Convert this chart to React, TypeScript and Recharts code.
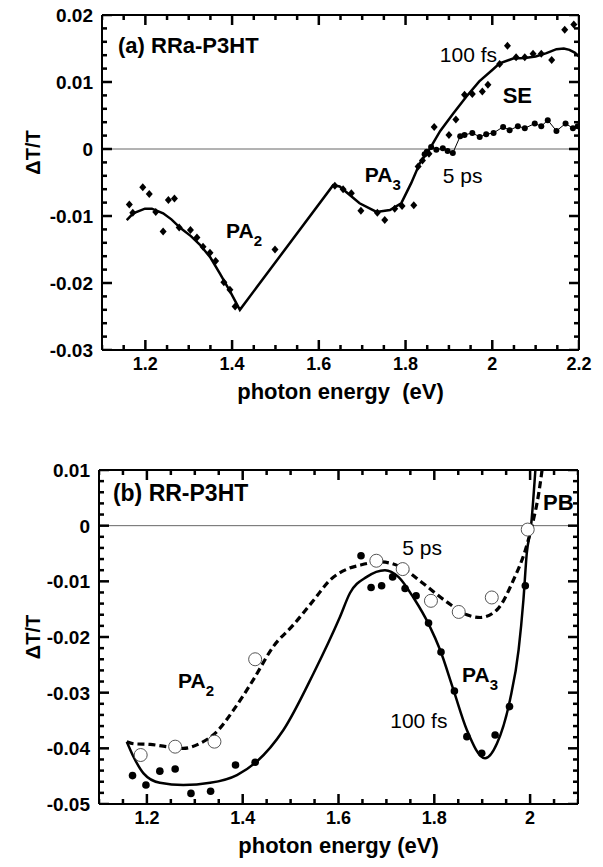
import React from 'react';
import {
  ComposedChart,
  Line,
  Scatter,
  XAxis,
  YAxis,
  ReferenceLine,
  ReferenceDot,
} from 'recharts';

const FONT = '"Liberation Sans", Arial, Helvetica, sans-serif';

// ---- panel (a) RRa-P3HT ----
const aFitE = [1.157, 1.172, 1.199, 1.215, 1.23, 1.241, 1.26, 1.281, 1.305, 1.326, 1.35, 1.372, 1.395, 1.418, 1.633, 1.648, 1.67, 1.694, 1.733, 1.764, 1.79, 1.813, 1.833, 1.852, 1.88, 1.91, 1.94, 1.97, 2.0, 2.017, 2.048, 2.075, 2.1, 2.125, 2.148, 2.165, 2.178, 2.19, 2.2];
const aFitV = [-0.0106, -0.0096, -0.0089, -0.0089, -0.0093, -0.0096, -0.0105, -0.0118, -0.013, -0.0143, -0.0162, -0.0186, -0.0212, -0.024, -0.0054, -0.0056, -0.0068, -0.0081, -0.0094, -0.0091, -0.0081, -0.0051, -0.0021, -0.0004, 0.0027, 0.0053, 0.0078, 0.0101, 0.0118, 0.0128, 0.0135, 0.0136, 0.0138, 0.0143, 0.0149, 0.015, 0.0148, 0.0144, 0.0138];

const aDiaE = [1.163, 1.171, 1.194, 1.209, 1.224, 1.241, 1.253, 1.267, 1.278, 1.304, 1.319, 1.333, 1.349, 1.362, 1.381, 1.395, 1.407, 1.499, 1.637, 1.656, 1.675, 1.697, 1.735, 1.752, 1.775, 1.792, 1.819, 1.829, 1.839, 1.854, 1.866, 1.9, 1.916, 1.936, 1.954, 1.977, 1.99, 2.017, 2.035, 2.055, 2.075, 2.094, 2.113, 2.137, 2.167, 2.188];
const aDiaV = [-0.0083, -0.0095, -0.0057, -0.0067, -0.0094, -0.0123, -0.0076, -0.0074, -0.0117, -0.0121, -0.0132, -0.0146, -0.0155, -0.0167, -0.0199, -0.021, -0.0235, -0.015, -0.0055, -0.006, -0.0066, -0.0092, -0.0095, -0.0106, -0.0089, -0.0085, -0.0084, -0.0026, -0.0017, -0.0007, 0.0033, 0.0021, 0.0044, 0.0081, 0.0082, 0.0086, 0.0096, 0.0127, 0.0154, 0.0137, 0.0137, 0.0142, 0.0142, 0.0133, 0.0178, 0.0186];

const a5psE = [1.844, 1.849, 1.859, 1.871, 1.886, 1.897, 1.909, 1.926, 1.936, 1.954, 1.971, 1.986, 2.003, 2.025, 2.04, 2.059, 2.075, 2.098, 2.113, 2.128, 2.148, 2.169, 2.186, 2.197];
const a5psV = [-0.0008, -0.0004, 0.0003, -0.0001, 0.0001, -0.0003, -0.0006, 0.0019, 0.0021, 0.0024, 0.0018, 0.0022, 0.0024, 0.0033, 0.0028, 0.0034, 0.0031, 0.0038, 0.0034, 0.0043, 0.0027, 0.0038, 0.0031, 0.0034];

const aXLabels = [1.2, 1.4, 1.6, 1.8, 2, 2.2];
const aYLabels = [-0.03, -0.02, -0.01, 0, 0.01, 0.02];

// ---- panel (b) RR-P3HT ----
const bFit100E = [1.158, 1.172, 1.193, 1.227, 1.276, 1.332, 1.388, 1.429, 1.485, 1.548, 1.603, 1.624, 1.659, 1.697, 1.725, 1.757, 1.79, 1.812, 1.84, 1.868, 1.906, 1.931, 1.958, 1.976, 1.986, 1.993, 2.002, 2.011];
const bFit100V = [-0.0388, -0.0415, -0.0445, -0.0462, -0.0466, -0.0462, -0.0448, -0.0424, -0.0367, -0.0265, -0.0164, -0.0121, -0.0092, -0.008, -0.0092, -0.013, -0.018, -0.0223, -0.0295, -0.0367, -0.0418, -0.0391, -0.0313, -0.0223, -0.0134, -0.005, 0, 0.01];

const bFit5E = [1.158, 1.175, 1.207, 1.24, 1.276, 1.311, 1.346, 1.381, 1.422, 1.464, 1.506, 1.548, 1.582, 1.621, 1.645, 1.687, 1.729, 1.777, 1.826, 1.868, 1.896, 1.931, 1.965, 1.99, 2.004, 2.018, 2.025];
const bFit5V = [-0.0388, -0.0392, -0.0393, -0.0397, -0.04, -0.0391, -0.037, -0.0331, -0.0277, -0.0217, -0.0178, -0.0134, -0.0098, -0.0077, -0.0071, -0.0065, -0.0074, -0.0104, -0.0137, -0.016, -0.0165, -0.0151, -0.0098, -0.0044, 0, 0.0058, 0.01];

const b100E = [1.17, 1.198, 1.227, 1.259, 1.292, 1.333, 1.385, 1.426, 1.647, 1.668, 1.69, 1.713, 1.739, 1.762, 1.788, 1.814, 1.842, 1.868, 1.899, 1.927, 1.957, 1.99];
const b100V = [-0.0449, -0.0466, -0.0441, -0.0437, -0.0481, -0.0477, -0.043, -0.0425, -0.0054, -0.0111, -0.0108, -0.0092, -0.0113, -0.0126, -0.0175, -0.0227, -0.0297, -0.0379, -0.0409, -0.0376, -0.0325, -0.0108];

const b5E = [1.187, 1.259, 1.341, 1.426, 1.679, 1.734, 1.793, 1.851, 1.92, 1.995];
const b5V = [-0.0412, -0.0397, -0.0388, -0.024, -0.0063, -0.0078, -0.0135, -0.0155, -0.0129, -0.0007];

const bXLabels = [1.2, 1.4, 1.6, 1.8, 2];
const bYLabels = [-0.05, -0.04, -0.03, -0.02, -0.01, 0, 0.01];

const zip = (e: number[], v: number[]) => e.map((x, i) => ({ x, y: v[i] }));

// tick positions from lo to hi in integer steps of `step` (values scaled by `k`)
const steps = (lo: number, hi: number, step: number, k: number) => {
  const out: number[] = [];
  for (let i = Math.round(lo * k); i <= Math.round(hi * k); i += Math.round(step * k)) out.push(i / k);
  return out;
};

const fmt = (v: number) => String(parseFloat(v.toFixed(2)));
const has = (list: number[], v: number) => list.some((l) => Math.abs(l - v) < 1e-6);

const MAJOR = 10;
const MINOR = 5;
const TW = 2.5; // tick thickness

// axis labels only; the inward tick marks are drawn as stub markers on the frame
const BottomLabel = (labels: number[]) => (p: any) => {
  const v = p.payload.value;
  if (!has(labels, v)) return <g />;
  return (
    <text x={p.x} y={p.y + 20} textAnchor="middle" fontFamily={FONT} fontSize={18} fontWeight="bold" fill="#000">
      {fmt(v)}
    </text>
  );
};

const LeftLabel = (labels: number[]) => (p: any) => {
  const v = p.payload.value;
  if (!has(labels, v)) return <g />;
  return (
    <text x={p.x - 9} y={p.y + 7} textAnchor="end" fontFamily={FONT} fontSize={19} fontWeight="bold" fill="#000">
      {fmt(v)}
    </text>
  );
};

// stub marker: dir is the inward direction ('up' | 'down' | 'right' | 'left')
const Stub = (labels: number[], dir: string) => (p: any) => {
  const v = dir === 'up' || dir === 'down' ? p.payload?.x : p.payload?.y;
  const len = v !== undefined && has(labels, v) ? MAJOR : MINOR;
  const { cx, cy } = p;
  if (dir === 'up') return <rect x={cx - TW / 2} y={cy - len} width={TW} height={len} fill="#000" />;
  if (dir === 'down') return <rect x={cx - TW / 2} y={cy} width={TW} height={len} fill="#000" />;
  if (dir === 'right') return <rect x={cx} y={cy - TW / 2} width={len} height={TW} fill="#000" />;
  return <rect x={cx - len} y={cy - TW / 2} width={len} height={TW} fill="#000" />;
};

const frameTicks = (
  xTicks: number[], xLabels: number[], yTicks: number[], yLabels: number[],
  dom: [number, number], ydom: [number, number],
) => [
  <Scatter key="tb" data={xTicks.map((x) => ({ x, y: ydom[0] }))} dataKey="y" shape={Stub(xLabels, 'up')} isAnimationActive={false} />,
  <Scatter key="tt" data={xTicks.map((x) => ({ x, y: ydom[1] }))} dataKey="y" shape={Stub(xLabels, 'down')} isAnimationActive={false} />,
  <Scatter key="tl" data={yTicks.map((y) => ({ x: dom[0], y }))} dataKey="y" shape={Stub(yLabels, 'right')} isAnimationActive={false} />,
  <Scatter key="tr" data={yTicks.map((y) => ({ x: dom[1], y }))} dataKey="y" shape={Stub(yLabels, 'left')} isAnimationActive={false} />,
];

const XTitle = ({ viewBox, text }: any) => (
  <text
    x={viewBox.x + viewBox.width / 2}
    y={viewBox.y + 49}
    textAnchor="middle"
    fontFamily={FONT}
    fontSize={22}
    fontWeight="bold"
    fill="#000"
    style={{ whiteSpace: 'pre' }}
  >
    {text}
  </text>
);

const YTitle = ({ viewBox, shift = 0 }: any) => {
  const cx = viewBox.x + 31;
  const cy = viewBox.y + viewBox.height / 2 + shift;
  return (
    <text
      x={cx}
      y={cy}
      transform={`rotate(-90 ${cx} ${cy})`}
      textAnchor="middle"
      dominantBaseline="central"
      fontFamily={FONT}
      fontSize={20}
      fontWeight="bold"
      fill="#000"
    >
      ΔT/T
    </text>
  );
};

const note = (content: React.ReactNode, bold = true, size = 21) => (p: any) => (
  <text x={p.cx} y={p.cy} fontFamily={FONT} fontSize={size} fontWeight={bold ? 'bold' : 'normal'} fill="#000">
    {content}
  </text>
);

const pa = (sub: string) => (
  <>
    <tspan>PA</tspan>
    <tspan dy={8} fontSize={15}>{sub}</tspan>
  </>
);

const Diamond = (p: any) => (
  <path d={`M${p.cx},${p.cy - 4}L${p.cx + 3.5},${p.cy}L${p.cx},${p.cy + 4}L${p.cx - 3.5},${p.cy}Z`} fill="#000" />
);
const Filled = (p: any) => <circle cx={p.cx} cy={p.cy} r={3.8} fill="#000" />;
const Open = (p: any) => <circle cx={p.cx} cy={p.cy} r={6.5} fill="#fff" stroke="#555" strokeWidth={1} />;

const axisLine = { stroke: '#000', strokeWidth: 2 };
const axisCommon = { tickLine: false, tickSize: 0, tickMargin: 0, interval: 0 as const, allowDataOverflow: true, axisLine };

function PanelA() {
  const xTicks = steps(1.1, 2.2, 0.05, 100);
  const yTicks = steps(-0.03, 0.02, 0.002, 1000);
  const dom: [number, number] = [1.1, 2.2];
  const ydom: [number, number] = [-0.03, 0.02];
  return (
    <ComposedChart width={603} height={420} margin={{ top: 14, right: 23, bottom: 10, left: 2 }}>
      <XAxis dataKey="x" type="number" domain={dom} ticks={xTicks} height={60} {...axisCommon}
        tick={BottomLabel(aXLabels)} label={<XTitle text="photon energy  (eV)" />} />
      <XAxis xAxisId="top" orientation="top" type="number" domain={dom} height={1} {...axisCommon} tick={false} />
      <YAxis type="number" domain={ydom} ticks={yTicks} width={100} {...axisCommon}
        tick={LeftLabel(aYLabels)} label={<YTitle shift={-30} />} />
      <YAxis yAxisId="right" orientation="right" type="number" domain={ydom} width={1} {...axisCommon} tick={false} />
      <ReferenceLine y={0} stroke="#666" strokeWidth={1} />
      {frameTicks(xTicks, aXLabels, yTicks, aYLabels, dom, ydom)}
      <Line data={zip(a5psE, a5psV)} dataKey="y" type="linear" stroke="#000" strokeWidth={1}
        dot={{ r: 3, fill: '#000', stroke: '#000', strokeWidth: 0 }} isAnimationActive={false} />
      <Line data={zip(aFitE, aFitV)} dataKey="y" type="linear" stroke="#000" strokeWidth={2.5} dot={false} isAnimationActive={false} />
      <Scatter data={zip(aDiaE, aDiaV)} dataKey="y" shape={Diamond} isAnimationActive={false} />
      <ReferenceDot x={1.137} y={0.0144} shape={note('(a) RRa-P3HT', true, 22)} />
      <ReferenceDot x={1.879} y={0.013} shape={note('100 fs', false, 21)} />
      <ReferenceDot x={2.024} y={0.0069} shape={note('SE', true, 22)} />
      <ReferenceDot x={1.386} y={-0.0133} shape={note(pa('2'))} />
      <ReferenceDot x={1.706} y={-0.0049} shape={note(pa('3'))} />
      <ReferenceDot x={1.886} y={-0.0051} shape={note('5 ps', false, 21)} />
    </ComposedChart>
  );
}

function PanelB() {
  const xTicks = steps(1.1, 2.1, 0.05, 100);
  const yTicks = steps(-0.05, 0.01, 0.002, 1000);
  const dom: [number, number] = [1.1, 2.1];
  const ydom: [number, number] = [-0.05, 0.01];
  return (
    <ComposedChart width={603} height={447} margin={{ top: 49, right: 24, bottom: 3, left: 2 }}>
      <XAxis dataKey="x" type="number" domain={dom} ticks={xTicks} height={60} {...axisCommon}
        tick={BottomLabel(bXLabels)} label={<XTitle text="photon energy (eV)" />} />
      <XAxis xAxisId="top" orientation="top" type="number" domain={dom} height={1} {...axisCommon} tick={false} />
      <YAxis type="number" domain={ydom} ticks={yTicks} width={97} {...axisCommon}
        tick={LeftLabel(bYLabels)} label={<YTitle />} />
      <YAxis yAxisId="right" orientation="right" type="number" domain={ydom} width={1} {...axisCommon} tick={false} />
      <ReferenceLine y={0} stroke="#666" strokeWidth={1} />
      {frameTicks(xTicks, bXLabels, yTicks, bYLabels, dom, ydom)}
      <Line data={zip(bFit5E, bFit5V)} dataKey="y" type="monotone" stroke="#000" strokeWidth={3.2} strokeDasharray="7 4"
        dot={false} isAnimationActive={false} />
      <Line data={zip(bFit100E, bFit100V)} dataKey="y" type="monotone" stroke="#000" strokeWidth={2.5}
        dot={false} isAnimationActive={false} />
      <Scatter data={zip(b100E, b100V)} dataKey="y" shape={Filled} isAnimationActive={false} />
      <Scatter data={zip(b5E, b5V)} dataKey="y" shape={Open} isAnimationActive={false} />
      <ReferenceDot x={1.129} y={0.0044} shape={note('(b) RR-P3HT', true, 23)} />
      <ReferenceDot x={1.733} y={-0.0053} shape={note('5 ps', false, 21)} />
      <ReferenceDot x={2.027} y={0.0028} shape={note('PB', true, 22)} />
      <ReferenceDot x={1.265} y={-0.0292} shape={note(pa('2'))} />
      <ReferenceDot x={1.858} y={-0.0281} shape={note(pa('3'))} />
      <ReferenceDot x={1.708} y={-0.0363} shape={note('100 fs', false, 21)} />
    </ComposedChart>
  );
}

export default function App() {
  return (
    <div style={{ position: 'absolute', left: 0, top: 0, width: 603, height: 867, background: '#fff' }}>
      <PanelA />
      <PanelB />
    </div>
  );
}
